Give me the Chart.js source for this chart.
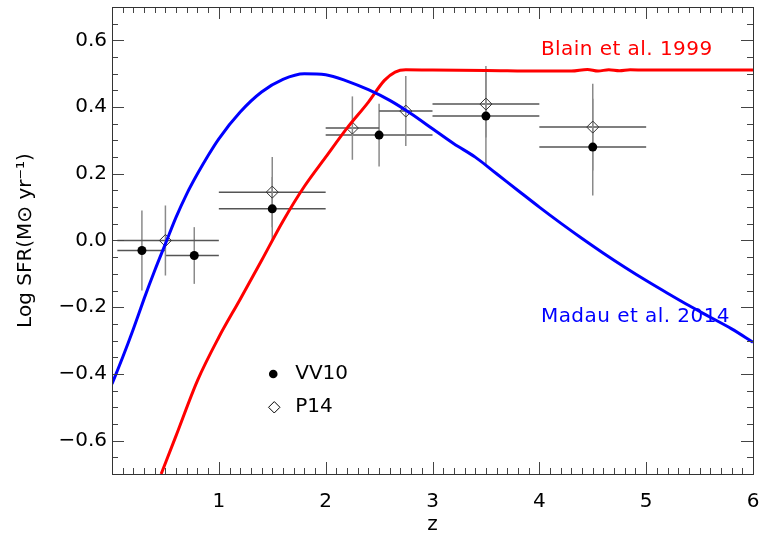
<!DOCTYPE html>
<html><head><meta charset="utf-8">
<script src="https://cdn.jsdelivr.net/npm/chart.js@4.4.0/dist/chart.umd.min.js"></script>
<style>html,body{margin:0;padding:0;background:#fff;}</style>
</head><body>
<canvas id="c" width="762" height="535" style="width:762px;height:535px;display:block"></canvas>
<script>
// ---- data ----
const madauZ = [0,0.1,0.2,0.3,0.4,0.5,0.6,0.7,0.8,0.9,1.0,1.2,1.4,1.6,1.8,2.0,2.2,2.4,2.6,2.8,3.0,3.2,3.4,3.6,3.8,4.0,4.2,4.4,4.6,4.8,5.0,5.2,5.4,5.6,5.8,6.0];
const madauLogSFR = [-0.43,-0.35,-0.265,-0.175,-0.09,-0.01,0.07,0.14,0.2,0.255,0.305,0.385,0.445,0.483,0.5,0.497,0.478,0.452,0.42,0.38,0.335,0.29,0.25,0.2,0.15,0.1,0.052,0.006,-0.038,-0.08,-0.12,-0.158,-0.195,-0.23,-0.265,-0.305];
const blainZ = [0.46,0.6,0.8,1.0,1.2,1.4,1.6,1.8,2.0,2.2,2.4,2.55,2.65,2.75,3.0,3.5,4.0,4.3,4.45,4.55,4.65,4.75,4.85,5.0,5.5,6.0];
const blainLogSFR = [-0.70,-0.585,-0.42,-0.29,-0.176,-0.06,0.058,0.162,0.25,0.337,0.415,0.48,0.505,0.512,0.511,0.51,0.508,0.508,0.513,0.508,0.512,0.509,0.512,0.511,0.511,0.511];

const vv10Z = [0.28, 0.77, 1.5, 2.5, 3.5, 4.5];
const vv10LogSFR = [-0.03, -0.045, 0.095, 0.316, 0.373, 0.28];
const vv10ZLow = [0.05, 0.5, 1.0, 2.0, 3.0, 4.0];
const vv10ZHigh = [0.5, 1.0, 2.0, 3.0, 4.0, 5.0];
const vv10Err = [0.12, 0.085, 0.095, 0.094, 0.15, 0.145];

const p14Z = [0.5, 1.5, 2.25, 2.75, 3.5, 4.5];
const p14LogSFR = [0.0, 0.145, 0.337, 0.388, 0.409, 0.34];
const p14ZLow = [0.05, 1.0, 2.0, 2.5, 3.0, 4.0];
const p14ZHigh = [1.0, 2.0, 2.5, 3.0, 4.0, 5.0];
const p14Err = [0.105, 0.105, 0.095, 0.105, 0.1, 0.13];

const xTicks = [1, 2, 3, 4, 5, 6];
const yTicks = [-0.6, -0.4, -0.2, 0.0, 0.2, 0.4, 0.6];
const xMinorStep = 0.1;
const yMinorStep = 0.05;

const seriesLabels = ['VV10', 'P14'];
const curveLabels = ['Blain et al. 1999', 'Madau et al. 2014'];
const xTitle = 'z';
const yTitle = 'Log SFR(M\u2299 yr\u207B\u00B9)';

// ---- build ----
const FONT = "'DejaVu Sans', sans-serif";
const pts = (xs, ys) => xs.map((x, i) => ({x: x, y: ys[i]}));

const errBars = [
  {z: vv10Z, v: vv10LogSFR, lo: vv10ZLow, hi: vv10ZHigh, e: vv10Err},
  {z: p14Z, v: p14LogSFR, lo: p14ZLow, hi: p14ZHigh, e: p14Err}
];

const errorBarPlugin = {
  id: 'errbars',
  beforeDatasetsDraw(chart) {
    const {ctx, chartArea: a, scales: {x, y}} = chart;
    ctx.save();
    ctx.beginPath(); ctx.rect(a.left, a.top, a.right - a.left, a.bottom - a.top); ctx.clip();
    ctx.lineWidth = 1.5;
    errBars.forEach(s => {
      s.z.forEach((z, i) => {
        const py = y.getPixelForValue(s.v[i]);
        const px = x.getPixelForValue(z);
        ctx.strokeStyle = '#555';
        ctx.beginPath();
        ctx.moveTo(x.getPixelForValue(s.lo[i]), py);
        ctx.lineTo(x.getPixelForValue(s.hi[i]), py);
        ctx.stroke();
        ctx.strokeStyle = '#8a8a8a';
        ctx.beginPath();
        ctx.moveTo(px, y.getPixelForValue(s.v[i] - s.e[i]));
        ctx.lineTo(px, y.getPixelForValue(s.v[i] + s.e[i]));
        ctx.stroke();
      });
    });
    ctx.restore();
  }
};

const framePlugin = {
  id: 'frame',
  afterDraw(chart) {
    const {ctx, chartArea: a, scales: {x, y}} = chart;
    ctx.save();
    ctx.strokeStyle = '#444';
    ctx.lineWidth = 1;
    const xmin = x.min, xmax = x.max, ymin = y.min, ymax = y.max;
    const nX = Math.round((xmax - xmin) / xMinorStep);
    for (let i = 0; i <= nX; i++) {
      const v = xmin + i * xMinorStep;
      const major = Math.abs(v - Math.round(v)) < 1e-6;
      const L = major ? 12 : 6;
      const px = Math.round(x.getPixelForValue(v)) + 0.5;
      ctx.beginPath();
      ctx.moveTo(px, a.bottom); ctx.lineTo(px, a.bottom - L);
      ctx.moveTo(px, a.top); ctx.lineTo(px, a.top + L);
      ctx.stroke();
    }
    const nY = Math.round((ymax - ymin) / yMinorStep);
    for (let i = 0; i <= nY; i++) {
      const v = ymin + i * yMinorStep;
      const major = yTicks.some(t => Math.abs(t - v) < 1e-6);
      const L = major ? 12 : 6;
      const py = Math.round(y.getPixelForValue(v)) + 0.5;
      ctx.beginPath();
      ctx.moveTo(a.left, py); ctx.lineTo(a.left + L, py);
      ctx.moveTo(a.right, py); ctx.lineTo(a.right - L, py);
      ctx.stroke();
    }
    ctx.strokeStyle = '#333';
    ctx.strokeRect(Math.round(a.left) + 0.5, Math.round(a.top) + 0.5, Math.round(a.right - a.left), Math.round(a.bottom - a.top));

    // curve annotations
    ctx.font = '20px ' + FONT;
    ctx.textBaseline = 'middle';
    ctx.textAlign = 'left';
    try { ctx.letterSpacing = '0.45px'; } catch (e) {}
    ctx.fillStyle = '#ff0000';
    ctx.fillText(curveLabels[0], x.getPixelForValue(4.015), y.getPixelForValue(0.573));
    ctx.fillStyle = '#0000ff';
    ctx.fillText(curveLabels[1], x.getPixelForValue(4.015), y.getPixelForValue(-0.23));
    try { ctx.letterSpacing = '0px'; } catch (e) {}

    // legend
    const lx = x.getPixelForValue(1.5), ly1 = y.getPixelForValue(-0.4), ly2 = y.getPixelForValue(-0.5);
    ctx.fillStyle = '#000';
    ctx.beginPath(); ctx.arc(lx + 1, ly1, 4.3, 0, Math.PI * 2); ctx.fill();
    ctx.strokeStyle = '#000'; ctx.lineWidth = 1;
    ctx.beginPath();
    ctx.moveTo(lx + 2 - 5.7, ly2); ctx.lineTo(lx + 2, ly2 - 5.7); ctx.lineTo(lx + 2 + 5.7, ly2); ctx.lineTo(lx + 2, ly2 + 5.7); ctx.closePath();
    ctx.stroke();
    ctx.fillStyle = '#000';
    ctx.font = '20px ' + FONT;
    ctx.fillText(seriesLabels[0], lx + 23, ly1);
    ctx.fillText(seriesLabels[1], lx + 23, ly2);
    ctx.restore();
  }
};

Chart.defaults.font.family = FONT;
Chart.defaults.color = '#000';

new Chart(document.getElementById('c'), {
  type: 'scatter',
  data: {
    datasets: [
      {label: curveLabels[1], data: pts(madauZ, madauLogSFR), showLine: true, borderColor: '#0000ff', borderWidth: 3, pointRadius: 0, cubicInterpolationMode: 'monotone', fill: false},
      {label: curveLabels[0], data: pts(blainZ, blainLogSFR), showLine: true, borderColor: '#ff0000', borderWidth: 3, pointRadius: 0, cubicInterpolationMode: 'monotone', fill: false},
      {label: seriesLabels[0], data: pts(vv10Z, vv10LogSFR), pointStyle: 'circle', pointRadius: 4.5, backgroundColor: '#000', borderColor: '#000', borderWidth: 0},
      {label: seriesLabels[1], data: pts(p14Z, p14LogSFR), pointStyle: 'rectRot', pointRadius: 6, backgroundColor: 'rgba(0,0,0,0)', borderColor: '#333', borderWidth: 1}
    ]
  },
  options: {
    responsive: false,
    animation: false,
    devicePixelRatio: 1,
    layout: {padding: {top: 6, right: 9, left: 0, bottom: 0}},
    plugins: {legend: {display: false}, tooltip: {enabled: false}},
    scales: {
      x: {
        type: 'linear', min: 0, max: 6,
        grid: {display: false, drawTicks: false},
        border: {display: false},
        afterBuildTicks: s => { s.ticks = xTicks.map(v => ({value: v})); },
        afterFit: s => { s.height = 61; s.paddingLeft = 0; s.paddingRight = 0; },
        ticks: {font: {size: 20}, padding: 16, maxRotation: 0, autoSkip: false, callback: v => String(v)},
        title: {display: true, text: xTitle, font: {size: 20, lineHeight: 1.0}, padding: {top: 0, bottom: 0}}
      },
      y: {
        type: 'linear', min: -0.7, max: 0.7,
        grid: {display: false, drawTicks: false},
        border: {display: false},
        afterBuildTicks: s => { s.ticks = yTicks.map(v => ({value: v})); },
        afterFit: s => { s.width = 112; s.paddingTop = 0; s.paddingBottom = 0; },
        ticks: {font: {size: 20}, padding: 5, autoSkip: false, callback: v => v.toFixed(1).replace('-', '\u2212')},
        title: {display: true, text: yTitle, font: {size: 20}, padding: {top: 14, bottom: 0}}
      }
    }
  },
  plugins: [errorBarPlugin, framePlugin]
});
</script>
</body></html>
